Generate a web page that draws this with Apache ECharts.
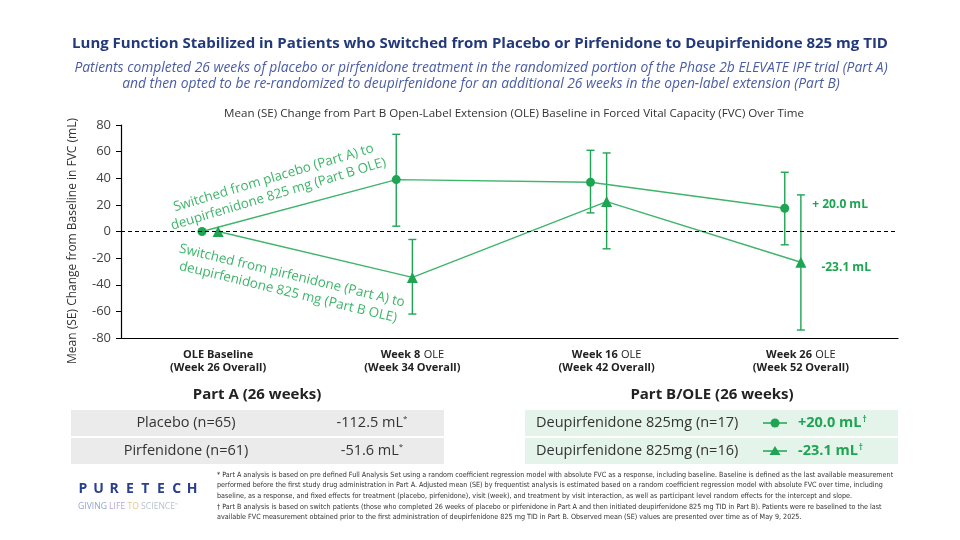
<!DOCTYPE html>
<html><head><meta charset="utf-8">
<script src="https://cdn.jsdelivr.net/npm/echarts@6/dist/echarts.min.js"></script>
<style>html,body{margin:0;padding:0;background:#fff}#c{width:960px;height:540px}</style>
</head><body><div id="c"></div>
<script>
// ---------- data ----------
const categories = ['OLE Baseline\n(Week 26 Overall)', 'Week 8 OLE\n(Week 34 Overall)', 'Week 16 OLE\n(Week 42 Overall)', 'Week 26 OLE\n(Week 52 Overall)'];
const placeboMean = [0, 39, 37, 17.5];
const placeboLow  = [0, 4, 14, -10];
const placeboHigh = [0, 73, 61, 44.5];
const pirfMean = [0, -34.5, 22.5, -23.1];
const pirfLow  = [0, -62, -13, -74];
const pirfHigh = [0, -6, 59, 27.5];
const endLabels = ['+ 20.0 mL', '-23.1 mL'];
const seriesNotes = ['Switched from placebo (Part A) to\ndeupirfenidone 825 mg (Part B OLE)', 'Switched from pirfenidone (Part A) to\ndeupirfenidone 825 mg (Part B OLE)'];
const partARows = [['Placebo (n=65)', '-112.5 mL', '*'], ['Pirfenidone (n=61)', '-51.6 mL', '*']];
const partBRows = [['Deupirfenidone 825mg (n=17)', '+20.0 mL', '†'], ['Deupirfenidone 825mg (n=16)', '-23.1 mL', '†']];
const footnotes = [
 '* Part A analysis is based on pre defined Full Analysis Set using a random coefficient regression model with absolute FVC as a response, including baseline. Baseline is defined as the last available measurement',
 'performed before the first study drug administration in Part A. Adjusted mean (SE) by frequentist analysis is estimated based on a random coefficient regression model with absolute FVC over time, including',
 'baseline, as a response, and fixed effects for treatment (placebo, pirfenidone), visit (week), and treatment by visit interaction, as well as participant level random effects for the intercept and slope.',
 '† Part B analysis is based on switch patients (those who completed 26 weeks of placebo or pirfenidone in Part A and then initiated deupirfenidone 825 mg TID in Part B). Patients were re baselined to the last',
 'available FVC measurement obtained prior to the first administration of deupirfenidone 825 mg TID in Part B. Observed mean (SE) values are presented over time as of May 9, 2025.'
];

// ---------- styles ----------
const GREEN = '#1ea553', LINE = '#3fb46b', NOTE = '#3db56a';
const NAVY = '#22397a', SUB = '#4a5ca6';
const FONT = '"Open Sans", "Noto Sans", sans-serif';
const NARROW = '"Liberation Sans Narrow", "DejaVu Sans Condensed", sans-serif';
const DODGE = -0.083;

const chart = echarts.init(document.getElementById('c'));
const pts = (arr, off) => arr.map((v, i) => [i + off, v]);
const bars = (lo, hi, off) => lo.map((v, i) => [i + off, v, hi[i]]);
const errItem = (params, api) => {
  const x = api.value(0), lo = api.value(1), hi = api.value(2);
  if (lo === hi) return null;
  const a = api.coord([x, lo]), b = api.coord([x, hi]), w = 4;
  const st = {stroke: GREEN, lineWidth: 1.4};
  return {type: 'group', children: [
    {type: 'line', shape: {x1: a[0], y1: a[1], x2: b[0], y2: b[1]}, style: st},
    {type: 'line', shape: {x1: a[0] - w, y1: a[1], x2: a[0] + w, y2: a[1]}, style: st},
    {type: 'line', shape: {x1: b[0] - w, y1: b[1], x2: b[0] + w, y2: b[1]}, style: st}
  ]};
};

function txt(text, x, y, font, fill, align, extra, lh) {
  const st = {text: text, font: font, fill: fill,
    align: align || 'center', textAlign: align || 'center', verticalAlign: 'middle', textVerticalAlign: 'middle'};
  if (lh) st.lineHeight = lh;
  return Object.assign({type: 'text', x: x, y: y, style: st}, extra || {});
}
function richTxt(text, x, y, rich, align) {
  return {type: 'text', x: x, y: y, style: {text: text, rich: rich,
    align: align || 'center', textAlign: align || 'center', verticalAlign: 'middle', textVerticalAlign: 'middle'}};
}

const graphics = [];
graphics.push(txt('Lung Function Stabilized in Patients who Switched from Placebo or Pirfenidone to Deupirfenidone 825 mg TID', 480, 44, 'bold 15px ' + FONT, NAVY));
graphics.push(txt('Patients completed 26 weeks of placebo or pirfenidone treatment in the randomized portion of the Phase 2b ELEVATE IPF trial (Part A)', 481, 68, 'italic 13.85px ' + FONT, SUB));
graphics.push(txt('and then opted to be re-randomized to deupirfenidone for an additional 26 weeks in the open-label extension (Part B)', 481, 84, 'italic 13.85px ' + FONT, SUB));
graphics.push(txt('Mean (SE) Change from Part B Open-Label Extension (OLE) Baseline in Forced Vital Capacity (FVC) Over Time', 514, 114, '11.6px ' + FONT, '#333'));
graphics.push(txt('Mean (SE) Change from Baseline in FVC (mL)', 73, 241, '12px ' + FONT, '#333', 'center', {rotation: Math.PI / 2}));
// rotated series notes
graphics.push(txt(seriesNotes[0], 276, 186, '13.4px ' + FONT, NOTE, 'center', {rotation: 16.6 * Math.PI / 180}, 17));
graphics.push(txt(seriesNotes[1], 290, 284, '13.4px ' + FONT, NOTE, 'center', {rotation: -13.6 * Math.PI / 180}, 17));
// tables
graphics.push(txt('Part A (26 weeks)', 257, 395, 'bold 15px ' + FONT, '#222'));
graphics.push(txt('Part B/OLE (26 weeks)', 712, 395, 'bold 15px ' + FONT, '#222'));
partARows.forEach((r, i) => {
  const y0 = 410 + i * 28;
  graphics.push({type: 'rect', shape: {x: 71, y: y0, width: 373, height: 26}, style: {fill: '#ebebeb'}});
  graphics.push(txt(r[0], 186, y0 + 13, '14.5px ' + FONT, '#333'));
  graphics.push(richTxt('{v|' + r[1] + '}{s|' + r[2] + '}', 372, y0 + 13,
    {v: {font: '14.5px ' + FONT, fill: '#333'}, s: {font: '8px ' + FONT, fill: '#333', verticalAlign: 'top', padding: [0, 0, 8, 0]}}));
});
partBRows.forEach((r, i) => {
  const y0 = 410 + i * 28, cy = y0 + 13;
  graphics.push({type: 'rect', shape: {x: 525, y: y0, width: 373, height: 26}, style: {fill: '#e5f4ea'}});
  graphics.push(txt(r[0], 536, cy, '14.5px ' + FONT, '#333', 'left'));
  graphics.push({type: 'line', shape: {x1: 763, y1: cy, x2: 787, y2: cy}, style: {stroke: GREEN, lineWidth: 1.5}});
  if (i === 0) graphics.push({type: 'circle', shape: {cx: 775, cy: cy, r: 4.5}, style: {fill: GREEN}});
  else graphics.push({type: 'polygon', shape: {points: [[775, cy - 5], [780.5, cy + 4], [769.5, cy + 4]]}, style: {fill: GREEN}});
  graphics.push(richTxt('{v|' + r[1] + '}{s|' + r[2] + '}', 798, cy,
    {v: {font: 'bold 14.5px ' + FONT, fill: GREEN}, s: {font: 'bold 8px ' + FONT, fill: GREEN, padding: [0, 0, 7, 1]}}, 'left'));
});
// footer logo
'PURETECH'.split('').forEach((ch, i) => {
  graphics.push(txt(ch, 83 + i * 15.6, 489, 'bold 14px ' + FONT, '#2a3f8d'));
});
graphics.push({type: 'text', x: 78, y: 507, style: {
  text: '{a|GIVING }{b|LIFE }{c|TO }{d|SCIENCE}{e|™}', verticalAlign: 'middle', textVerticalAlign: 'middle',
  rich: {a: {fill: '#8aa6d6', font: '8.6px ' + FONT}, b: {fill: '#b3a4d8', font: '8.6px ' + FONT},
         c: {fill: '#e3c888', font: '8.6px ' + FONT}, d: {fill: '#b9c0cc', font: '8.6px ' + FONT},
         e: {fill: '#b9c0cc', font: '4px ' + FONT, padding: [0, 0, 5, 0]}}}});
footnotes.forEach((t, i) => {
  graphics.push(txt(t, 217, 475 + i * 10.6, '7.15px ' + NARROW, '#333', 'left'));
});

const catFormatter = v => {
  const [l1, l2] = v.split('\n');
  const m = l1.match(/^(Week \d+) (OLE)$/);
  const first = m ? '{b|' + m[1] + '} {r|' + m[2] + '}' : '{b|' + l1 + '}';
  return first + '\n{b|' + l2 + '}';
};

const option = {
  animation: false,
  backgroundColor: '#fff',
  grid: {left: 121, right: 62, top: 125, bottom: 202},
  xAxis: [
    {type: 'category', data: categories, boundaryGap: true,
     axisLine: {onZero: false, lineStyle: {color: '#000', width: 1.2}}, axisTick: {show: false},
     axisLabel: {formatter: catFormatter, margin: 10, lineHeight: 13,
       rich: {b: {fontFamily: FONT, fontWeight: 'bold', fontSize: 11, color: '#222', lineHeight: 13},
              r: {fontFamily: FONT, fontSize: 11, color: '#222', lineHeight: 13}}}},
    {type: 'value', min: -0.5, max: 3.5, show: false}
  ],
  yAxis: {type: 'value', min: -80, max: 80, interval: 20,
    axisLine: {show: true, onZero: false, lineStyle: {color: '#000', width: 1.2}},
    axisTick: {show: true, length: 5, lineStyle: {color: '#000'}},
    splitLine: {show: false},
    axisLabel: {fontFamily: FONT, fontSize: 13, color: '#444', margin: 10}},
  series: [
    {type: 'custom', xAxisIndex: 1, renderItem: errItem, data: bars(placeboLow, placeboHigh, DODGE), encode: {x: 0, y: [1, 2]}, z: 1},
    {type: 'custom', xAxisIndex: 1, renderItem: errItem, data: bars(pirfLow, pirfHigh, 0), encode: {x: 0, y: [1, 2]}, z: 1},
    {type: 'line', xAxisIndex: 1, data: pts(placeboMean, DODGE), symbol: 'circle', symbolSize: 9,
     lineStyle: {color: LINE, width: 1.4}, itemStyle: {color: GREEN}, z: 3,
     label: {show: true, formatter: p => p.dataIndex === 3 ? endLabels[0] : '', position: 'right', distance: 23, offset: [0, -4],
       fontFamily: FONT, fontWeight: 'bold', fontSize: 12, color: GREEN},
     markLine: {silent: true, symbol: 'none', label: {show: false}, data: [{yAxis: 0}],
       lineStyle: {color: '#000', type: [4, 3], width: 1.2}}},
    {type: 'line', xAxisIndex: 1, data: pts(pirfMean, 0), symbol: 'triangle', symbolSize: 11,
     lineStyle: {color: LINE, width: 1.4}, itemStyle: {color: GREEN}, z: 3,
     label: {show: true, formatter: p => p.dataIndex === 3 ? endLabels[1] : '', position: 'right', distance: 15, offset: [0, 5],
       fontFamily: FONT, fontWeight: 'bold', fontSize: 12, color: GREEN}}
  ],
  graphic: {elements: graphics}
};
chart.setOption(option);
</script></body></html>
